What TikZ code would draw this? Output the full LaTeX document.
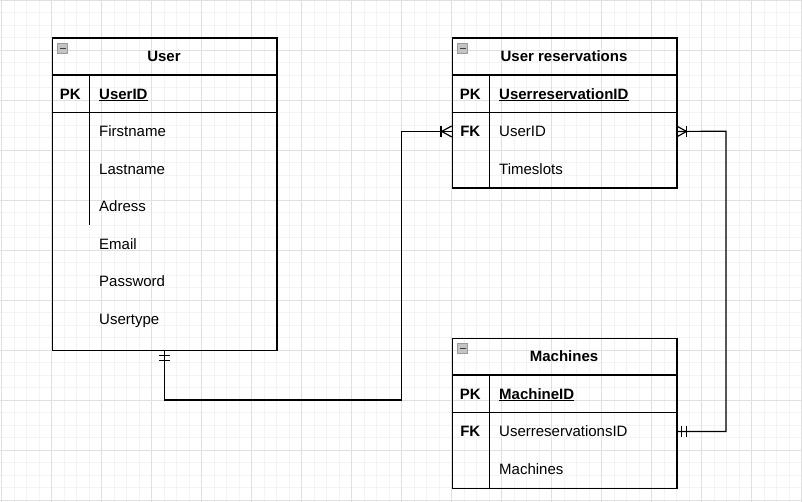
\documentclass[tikz,border=0pt]{standalone}
\usepackage{fontspec}
\setmainfont{Liberation Sans}
\definecolor{gminor}{HTML}{F3F3F3}
\definecolor{gmajor}{HTML}{E0E0E0}
\definecolor{iconfill}{HTML}{C4C4C4}
\definecolor{iconline}{HTML}{9A9A9A}
\definecolor{iconminus}{HTML}{404040}
\begin{document}
\begin{tikzpicture}[x=1pt,y=-1pt,
  tbox/.style={draw=black, line width=1.2pt, inner sep=0pt, anchor=north west, minimum width=224.6pt},
  trow/.style={draw=none, inner sep=0pt, anchor=north west, minimum width=224.6pt, minimum height=37.5pt},
  tline/.style={draw=black, line width=1.2pt},
  hdr/.style={font=\fontsize{15}{18}\selectfont\bfseries, inner sep=0pt, anchor=base},
  keytxt/.style={font=\fontsize{15}{18}\selectfont\bfseries, inner sep=0pt, anchor=base},
  fld/.style={font=\fontsize{15}{18}\selectfont, inner sep=0pt, anchor=base west},
  pkf/.style={font=\fontsize{15}{18}\selectfont\bfseries, inner sep=0pt, anchor=base west},
  conn/.style={draw=black, line width=1.2pt},
  icon/.style={draw=iconline, fill=iconfill, line width=0.6pt, minimum size=10.5pt, inner sep=0pt},
  gmin/.style={draw=gminor, line width=0.9pt},
  gmaj/.style={draw=gmajor, line width=0.9pt}
]
\useasboundingbox (0,0) rectangle (802,502);
\fill[white] (0,0) rectangle (802,502);
% grid
\foreach \i in {0,...,64} { \draw[gmin] ({1.7+12.5*\i},0) -- ++(0,502); }
\foreach \j in {0,...,40} { \draw[gmin] (0,{12.5*\j}) -- ++(802,0); }
\foreach \i in {0,...,16} { \draw[gmaj] ({1.7+50*\i},0) -- ++(0,502); }
\foreach \j in {0,...,10} { \draw[gmaj] (0,{50*\j}) -- ++(802,0); }

% ---------- User ----------
\node[tbox, minimum height=312.5pt] (user) at (51.7,37.5) {};
\draw[tline] (51.7,75) -- (276.3,75);
\draw[tline] (51.7,112.5) -- (276.3,112.5);
\draw[tline] (89.3,75) -- (89.3,225);
\node[icon] (uicon) at (62.5,48.5) {};
\draw[iconminus, line width=1.6pt] ([xshift=-3pt]uicon.center) -- ([xshift=3pt]uicon.center);
\node[hdr] (uhdr) at (164,61.65) {User};
\node[keytxt] (upk) at (70.3,99.15) {PK};
\node[pkf] (uid) at (99,99.15) {UserID};
\draw[black, line width=1.2pt] ([yshift=-1.6pt]uid.base west) -- ([yshift=-1.6pt]uid.base east);
\node[fld] (ufirst) at (99,136.65) {Firstname};
\node[fld] (ulast) at (99,174.15) {Lastname};
\node[fld] (uadr) at (99,211.65) {Adress};
\node[fld] (umail) at (99,249.15) {Email};
\node[fld] (upw) at (99,286.65) {Password};
\node[fld] (utype) at (99,324.15) {Usertype};

% ---------- User reservations ----------
\node[tbox, minimum height=150pt] (ures) at (451.7,37.5) {};
\draw[tline] (451.7,75) -- (676.3,75);
\draw[tline] (451.7,112.5) -- (676.3,112.5);
\draw[tline] (489.3,75) -- (489.3,187.5);
\node[icon] (ricon) at (462.5,48.5) {};
\draw[iconminus, line width=1.6pt] ([xshift=-3pt]ricon.center) -- ([xshift=3pt]ricon.center);
\node[hdr] (rhdr) at (564,61.65) {User reservations};
\node[keytxt] (rpk) at (470.3,99.15) {PK};
\node[pkf] (rid) at (499,99.15) {UserreservationID};
\draw[black, line width=1.2pt] ([yshift=-1.6pt]rid.base west) -- ([yshift=-1.6pt]rid.base east);
\node[trow] (rfkrow) at (451.7,112.5) {};
\node[keytxt] (rfk) at (470.3,136.65) {FK};
\node[fld] (ruser) at (499,136.65) {UserID};
\node[fld] (rslots) at (499,174.15) {Timeslots};

% ---------- Machines ----------
\node[tbox, minimum height=150pt] (mach) at (451.7,337.5) {};
\draw[tline] (451.7,375) -- (676.3,375);
\draw[tline] (451.7,412.5) -- (676.3,412.5);
\draw[tline] (489.3,375) -- (489.3,487.5);
\node[icon] (micon) at (462.5,348.5) {};
\draw[iconminus, line width=1.6pt] ([xshift=-3pt]micon.center) -- ([xshift=3pt]micon.center);
\node[hdr] (mhdr) at (564,361.65) {Machines};
\node[keytxt] (mpk) at (470.3,399.15) {PK};
\node[pkf] (mid) at (499,399.15) {MachineID};
\draw[black, line width=1.2pt] ([yshift=-1.6pt]mid.base west) -- ([yshift=-1.6pt]mid.base east);
\node[trow] (mfkrow) at (451.7,412.5) {};
\node[keytxt] (mfk) at (470.3,436.65) {FK};
\node[fld] (mures) at (499,436.65) {UserreservationsID};
\node[fld] (mmach) at (499,474.15) {Machines};

% ---------- connectors ----------
\coordinate (c1) at (401.7,400);
\coordinate (c2) at (726,131.25);
\draw[conn] (user.south) |- (c1) |- (rfkrow.west);
\draw[conn] (mfkrow.east) -| (c2) -- (rfkrow.east);

% mandatory one at User
\draw[conn] (user.south) ++(-5.5,4) -- ++(11,0);
\draw[conn] (user.south) ++(-5.5,9.3) -- ++(11,0);
% one-or-many at User reservations (left)
\draw[conn] (rfkrow.west) ++(-10.7,-5.5) -- ++(0,11);
\draw[conn] (rfkrow.west) ++(0,-5.5) -- ++(-10,5.5) -- ++(10,5.5);
% one-or-many at User reservations (right)
\draw[conn] (rfkrow.east) ++(9.7,-5.5) -- ++(0,11);
\draw[conn] (rfkrow.east) ++(0,-5.5) -- ++(9.7,5.5) -- ++(-9.7,5.5);
% mandatory one at Machines
\draw[conn] (mfkrow.east) ++(4.7,-5.5) -- ++(0,11);
\draw[conn] (mfkrow.east) ++(9.7,-5.5) -- ++(0,11);
\end{tikzpicture}
\end{document}
